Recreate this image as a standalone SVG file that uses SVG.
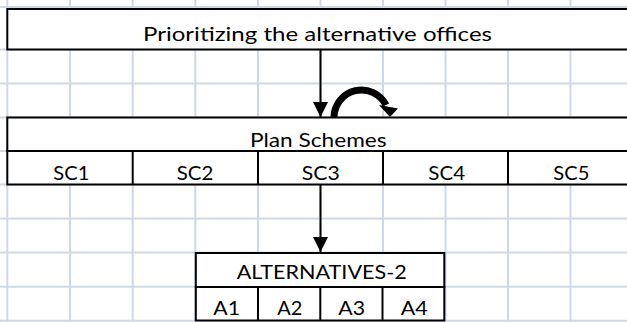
<svg xmlns="http://www.w3.org/2000/svg" width="627" height="322" viewBox="0 0 627 322">
<style>
.grid line{stroke:#d0d7e5;stroke-width:2}
.box{fill:#ffffff;stroke:#000000;stroke-width:2}
.div{stroke:#000000;stroke-width:2}
text{font-family:Lato,"Open Sans","Liberation Sans",sans-serif;font-size:20px;fill:#000000;text-anchor:middle}
.conn{stroke:#000000;fill:none}
</style>
<defs>
<marker id="ah" viewBox="0 0 16 15" refX="15" refY="7.5" markerWidth="16" markerHeight="15" markerUnits="userSpaceOnUse" orient="auto">
<path d="M0,0 L15,7.5 L0,15 Z" fill="#000000"/>
</marker>
</defs>
<rect width="627" height="322" fill="#ffffff"/>
<g class="grid">
<line x1="7.3" y1="0" x2="7.3" y2="322"/>
<line x1="70" y1="0" x2="70" y2="322"/>
<line x1="132.7" y1="0" x2="132.7" y2="322"/>
<line x1="195.3" y1="0" x2="195.3" y2="322"/>
<line x1="258" y1="0" x2="258" y2="322"/>
<line x1="320.5" y1="0" x2="320.5" y2="322"/>
<line x1="383" y1="0" x2="383" y2="322"/>
<line x1="445.5" y1="0" x2="445.5" y2="322"/>
<line x1="508" y1="0" x2="508" y2="322"/>
<line x1="570.5" y1="0" x2="570.5" y2="322"/>
<line x1="0" y1="7" x2="627" y2="7"/>
<line x1="0" y1="49.5" x2="627" y2="49.5"/>
<line x1="0" y1="83.5" x2="627" y2="83.5"/>
<line x1="0" y1="117.5" x2="627" y2="117.5"/>
<line x1="0" y1="151" x2="627" y2="151"/>
<line x1="0" y1="184.5" x2="627" y2="184.5"/>
<line x1="0" y1="218.5" x2="627" y2="218.5"/>
<line x1="0" y1="252.5" x2="627" y2="252.5"/>
<line x1="0" y1="286.8" x2="627" y2="286.8"/>
<line x1="0" y1="320.7" x2="627" y2="320.7"/>
</g>
<g id="title">
<rect class="box" x="7.3" y="9" width="640" height="40.5"/>
<text x="317.5" y="40.5" textLength="349" lengthAdjust="spacingAndGlyphs">Prioritizing the alternative offices</text>
</g>
<g id="plan-schemes">
<rect class="box" x="7.3" y="117.5" width="640" height="33.5"/>
<rect class="box" x="7.3" y="151" width="640" height="33.5"/>
<line class="div" x1="132.7" y1="151" x2="132.7" y2="184.5"/>
<line class="div" x1="258" y1="151" x2="258" y2="184.5"/>
<line class="div" x1="383" y1="151" x2="383" y2="184.5"/>
<line class="div" x1="508" y1="151" x2="508" y2="184.5"/>
<text x="318.3" y="146.5" textLength="136.7" lengthAdjust="spacingAndGlyphs">Plan Schemes</text>
<text x="71.3" y="179.5" textLength="36" lengthAdjust="spacingAndGlyphs">SC1</text>
<text x="195" y="179.5" textLength="36.6" lengthAdjust="spacingAndGlyphs">SC2</text>
<text x="320.8" y="179.5" textLength="38" lengthAdjust="spacingAndGlyphs">SC3</text>
<text x="446.7" y="179.5" textLength="36.7" lengthAdjust="spacingAndGlyphs">SC4</text>
<text x="571.3" y="179.5" textLength="36" lengthAdjust="spacingAndGlyphs">SC5</text>
</g>
<g id="alternatives-2">
<rect class="box" x="195.8" y="253" width="248.5" height="34"/>
<rect class="box" x="195.8" y="287" width="248.5" height="33.5"/>
<line class="div" x1="258" y1="287" x2="258" y2="320.5"/>
<line class="div" x1="320.3" y1="287" x2="320.3" y2="320.5"/>
<line class="div" x1="382.5" y1="287" x2="382.5" y2="320.5"/>
<text x="321.7" y="279.3" textLength="170" lengthAdjust="spacingAndGlyphs">ALTERNATIVES-2</text>
<text x="226.7" y="315" textLength="26.7" lengthAdjust="spacingAndGlyphs">A1</text>
<text x="289.8" y="315" textLength="25" lengthAdjust="spacingAndGlyphs">A2</text>
<text x="351.7" y="315" textLength="26.7" lengthAdjust="spacingAndGlyphs">A3</text>
<text x="414.2" y="315" textLength="27" lengthAdjust="spacingAndGlyphs">A4</text>
</g>
<g id="connectors">
<line class="conn" x1="320.5" y1="50" x2="320.5" y2="117" stroke-width="2" marker-end="url(#ah)"/>
<line class="conn" x1="320.5" y1="185" x2="320.5" y2="252" stroke-width="2" marker-end="url(#ah)"/>
<path class="conn" d="M334,117 A27.5,27.5 0 0 1 386,105" stroke-width="7"/>
<polygon points="379,105 398,108.5 390,117" fill="#000000"/>
</g>
</svg>
